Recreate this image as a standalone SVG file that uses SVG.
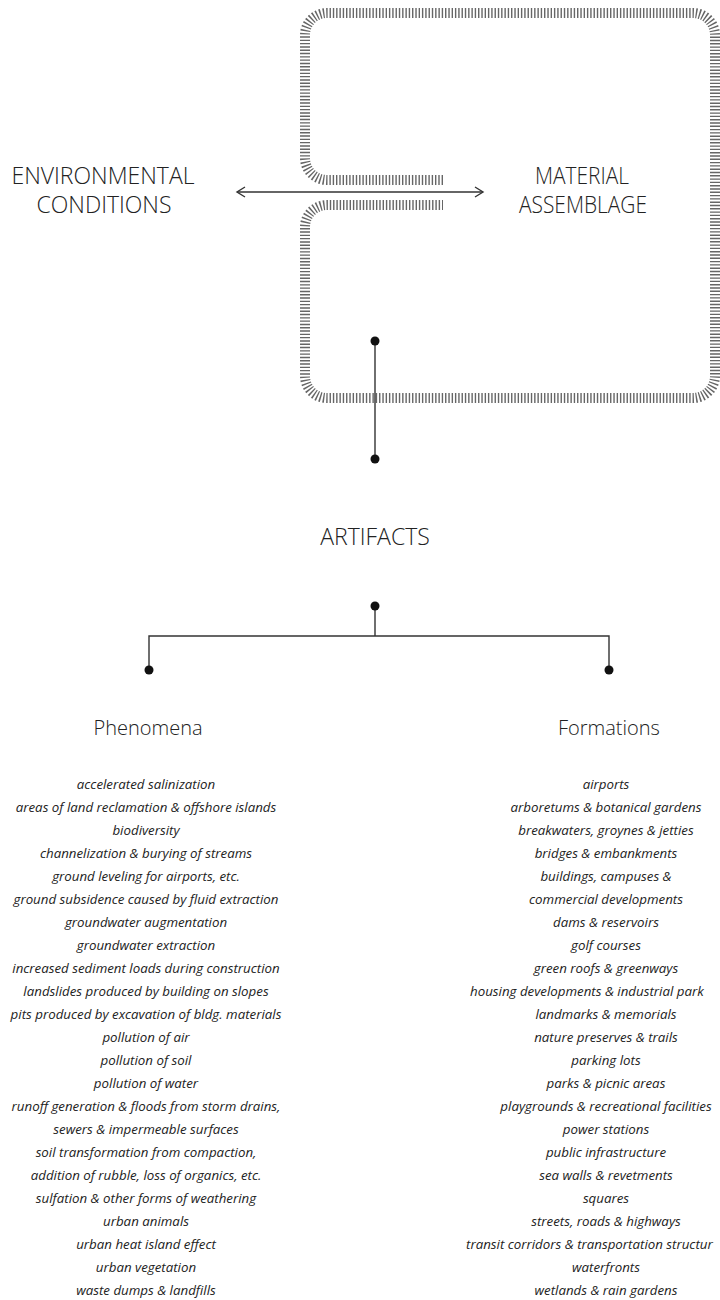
<svg xmlns="http://www.w3.org/2000/svg" width="720" height="1300" viewBox="0 0 720 1300">
<style>
.bg{fill:#fff}
.hatch{fill:none;stroke:#666;stroke-width:10;stroke-dasharray:1.4 1.9}
.ln{fill:none;stroke:#333;stroke-width:1.4}
.dot{fill:#111}
.cap{font-family:"Open Sans","Liberation Sans",sans-serif;font-size:23px;font-weight:300;fill:#222;text-anchor:middle}
.sub{font-family:"Open Sans","Liberation Sans",sans-serif;font-size:20px;font-weight:300;fill:#222;text-anchor:middle}
.it{font-family:"Open Sans","Liberation Sans",sans-serif;font-size:13.3px;font-style:italic;fill:#222;text-anchor:middle}
</style>
<rect class="bg" x="0" y="0" width="720" height="1300"/>
<g id="material-frame">
<path class="hatch" d="M443,180 L327,180 A22,22 0 0 1 305,158 L305,35 A22,22 0 0 1 327,13 L693,13 A22,22 0 0 1 715,35 L715,376 A22,22 0 0 1 693,398 L327,398 A22,22 0 0 1 305,376 L305,227 A22,22 0 0 1 327,205 L443,205"/>
</g>
<g id="connectors">
<path class="ln" d="M237,192 L483,192"/>
<path class="ln" d="M245,187 L237,192 L245,197"/>
<path class="ln" d="M475,187 L483,192 L475,197"/>
<path class="ln" d="M375,341 L375,459"/>
<circle class="dot" cx="375" cy="341" r="4.5"/>
<circle class="dot" cx="375" cy="459" r="4.5"/>
<path class="ln" d="M375,606 L375,636 M149,670 L149,636 L609,636 L609,670"/>
<circle class="dot" cx="375" cy="606" r="4.5"/>
<circle class="dot" cx="149" cy="670" r="4.5"/>
<circle class="dot" cx="609" cy="670" r="4.5"/>
</g>
<g id="environmental-conditions">
<text class="cap" x="103" y="184">ENVIRONMENTAL</text>
<text class="cap" x="104" y="213">CONDITIONS</text>
</g>
<g id="material-assemblage">
<text class="cap" x="582" y="184" textLength="94" lengthAdjust="spacingAndGlyphs">MATERIAL</text>
<text class="cap" x="583" y="213" textLength="128" lengthAdjust="spacingAndGlyphs">ASSEMBLAGE</text>
</g>
<g id="artifacts">
<text class="cap" x="375" y="545">ARTIFACTS</text>
</g>
<g id="phenomena">
<text class="sub" x="148" y="735">Phenomena</text>
<g class="it">
<text x="146" y="788.5">accelerated salinization</text>
<text x="146" y="811.5">areas of land reclamation &amp; offshore islands</text>
<text x="146" y="834.5">biodiversity</text>
<text x="146" y="857.5">channelization &amp; burying of streams</text>
<text x="146" y="880.5">ground leveling for airports, etc.</text>
<text x="146" y="903.5">ground subsidence caused by fluid extraction</text>
<text x="146" y="926.5">groundwater augmentation</text>
<text x="146" y="949.5">groundwater extraction</text>
<text x="146" y="972.5">increased sediment loads during construction</text>
<text x="146" y="995.5">landslides produced by building on slopes</text>
<text x="146" y="1018.5">pits produced by excavation of bldg. materials</text>
<text x="146" y="1041.5">pollution of air</text>
<text x="146" y="1064.5">pollution of soil</text>
<text x="146" y="1087.5">pollution of water</text>
<text x="146" y="1110.5">runoff generation &amp; floods from storm drains,</text>
<text x="146" y="1133.5">sewers &amp; impermeable surfaces</text>
<text x="146" y="1156.5">soil transformation from compaction,</text>
<text x="146" y="1179.5">addition of rubble, loss of organics, etc.</text>
<text x="146" y="1202.5">sulfation &amp; other forms of weathering</text>
<text x="146" y="1225.5">urban animals</text>
<text x="146" y="1248.5">urban heat island effect</text>
<text x="146" y="1271.5">urban vegetation</text>
<text x="146" y="1294.5">waste dumps &amp; landfills</text>
</g>
</g>
<g id="formations">
<text class="sub" x="609" y="735">Formations</text>
<g class="it">
<text x="606" y="788.5">airports</text>
<text x="606" y="811.5">arboretums &amp; botanical gardens</text>
<text x="606" y="834.5">breakwaters, groynes &amp; jetties</text>
<text x="606" y="857.5">bridges &amp; embankments</text>
<text x="606" y="880.5">buildings, campuses &amp;</text>
<text x="606" y="903.5">commercial developments</text>
<text x="606" y="926.5">dams &amp; reservoirs</text>
<text x="606" y="949.5">golf courses</text>
<text x="606" y="972.5">green roofs &amp; greenways</text>
<text x="470" y="995.5" style="text-anchor:start">housing developments &amp; industrial park</text>
<text x="606" y="1018.5">landmarks &amp; memorials</text>
<text x="606" y="1041.5">nature preserves &amp; trails</text>
<text x="606" y="1064.5">parking lots</text>
<text x="606" y="1087.5">parks &amp; picnic areas</text>
<text x="606" y="1110.5">playgrounds &amp; recreational facilities</text>
<text x="606" y="1133.5">power stations</text>
<text x="606" y="1156.5">public infrastructure</text>
<text x="606" y="1179.5">sea walls &amp; revetments</text>
<text x="606" y="1202.5">squares</text>
<text x="606" y="1225.5">streets, roads &amp; highways</text>
<text x="466" y="1248.5" style="text-anchor:start">transit corridors &amp; transportation structur</text>
<text x="606" y="1271.5">waterfronts</text>
<text x="606" y="1294.5">wetlands &amp; rain gardens</text>
</g>
</g>
</svg>
